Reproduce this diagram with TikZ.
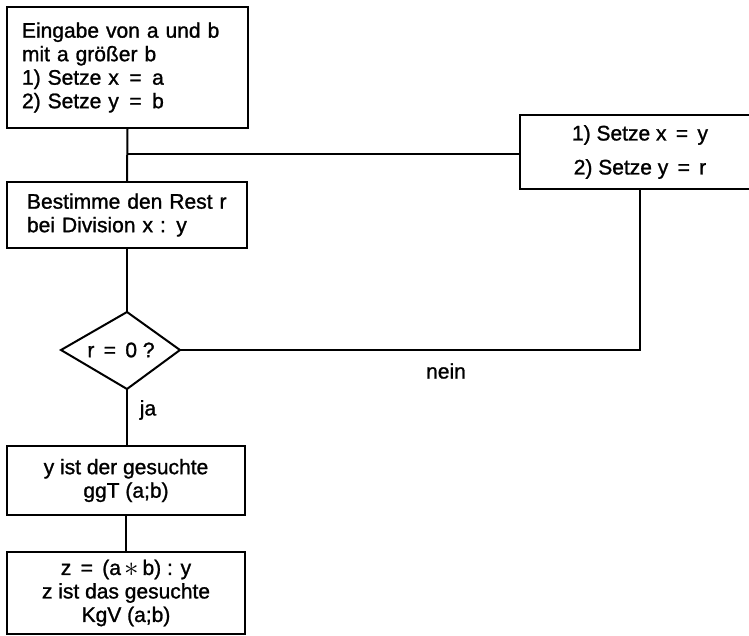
\documentclass[tikz,border=0pt]{standalone}
\usepackage{fontspec}
\setmainfont{Liberation Sans}[FakeBold=1.2]
\usetikzlibrary{calc}
\begin{document}
\begin{tikzpicture}[x=1pt,y=-1pt,
  txt/.style={font=\fontsize{21}{23.5}\selectfont},
  box/.style={draw,line width=2pt,rectangle,inner sep=0pt,txt},
  conn/.style={line width=2pt,line join=miter}]
\useasboundingbox (0,0) rectangle (749,635);
\node[box,minimum width=241pt,minimum height=121pt,text width=211pt,align=left] (b1) at (127.5,67.5)
  {Eingabe von a und b\\mit a größer b\\1) Setze x\,\ =\ \,a\\2) Setze y\,\ =\ \,b};
\node[box,minimum width=240pt,minimum height=66pt,text width=200pt,align=left] (b2) at (127,215)
  {Bestimme den Rest r\\bei Division x : y};
\node[box,minimum width=240pt,minimum height=74pt,align=center] (rb) at (640,152)
  {1) Setze x\,\ =\ \,y\\[10.5pt]2) Setze y\,\ =\ \,r};
% diamond (slightly asymmetric, as in the reference)
\coordinate (dn) at (127,312);
\coordinate (de) at (180,350);
\coordinate (ds) at (127,389);
\coordinate (dw) at (61,350);
\draw[conn] (dn) -- (de) -- (ds) -- (dw) -- cycle;
\node[txt,inner sep=0pt] (d) at (121,350) {r\,\ =\ \,0 ?};
\node[box,minimum width=238pt,minimum height=69pt,align=center] (b3) at (126,480.5)
  {y ist der gesuchte\\ggT (a;b)};
\node[box,minimum width=238pt,minimum height=82pt,align=center] (b4) at (126,593)
  {z\,\ =\ \,(a\,\raisebox{-1.8pt}{\scalebox{1.4}{$\ast$}}\,b) : y\\z ist das gesuchte\\KgV (a;b)};
\node[txt] (nein) at (446,371) {nein};
\node[txt] (ja) at (148,410) {ja};
\coordinate (j) at (127,154);
\draw[conn] (b1.south) -- (b2.north);
\draw[conn] (j) -- (j -| rb.west);
\draw[conn] (b2.south) -- (dn);
\draw[conn] (de) -- (de -| rb.south) -- (rb.south);
\draw[conn] (ds) -- (ds |- b3.north);
\draw[conn] (b3.south) -- (b4.north);
\end{tikzpicture}
\end{document}
